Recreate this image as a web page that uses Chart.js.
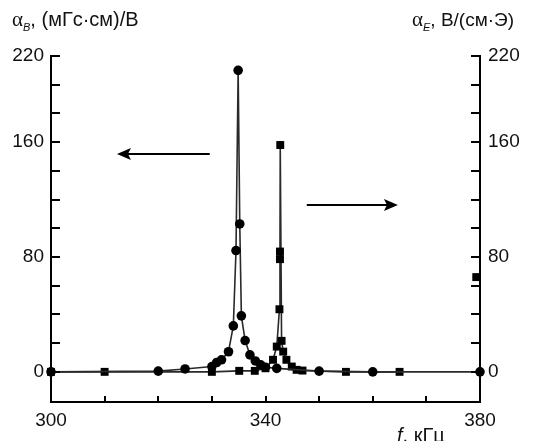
<!DOCTYPE html>
<html><head><meta charset="utf-8">
<script src="https://cdn.jsdelivr.net/npm/chart.js@4"></script>
<style>
html,body{margin:0;padding:0;background:#fff;}
#wrap{position:relative;width:535px;height:441px;overflow:hidden;background:#fff;}
canvas{position:absolute;left:0;top:0;}
.lbl{position:absolute;font-family:"Liberation Sans",Arial,sans-serif;font-size:19px;color:#111;white-space:nowrap;line-height:1;}
.al{font-family:"Liberation Serif",serif;font-size:21px;}
.sub{font-style:italic;font-size:11px;position:relative;top:5px;}
</style></head><body>
<div id="wrap">
<canvas id="c" width="535" height="441"></canvas>
<div class="lbl" style="left:12px;top:9px;font-size:20px"><span class="al">α</span><span class="sub">B</span>, (мГс·см)/В</div>
<div class="lbl" style="left:412px;top:9px"><span class="al">α</span><span class="sub">E</span>, В/(см·Э)</div>
<div class="lbl" style="left:397px;top:425px;font-size:20px"><i>f</i>, кГц</div>
</div>
<script>
// ---- data ----
const freqB  = [300,320,325,330,330.9,331.8,333.1,334.0,334.5,334.9,335.2,335.5,336.2,337.1,338.1,339.1,340.0,342.1,350,360,380];
const alphaB = [0,0.5,2,3.7,6.5,8.4,14,32,84.5,210,103,39,21.8,11.8,7.6,4.9,3.2,2.4,0.5,0,0];
const freqE  = [300,310,330,335.1,338,340,341.4,342.1,342.6,342.7,342.7,342.75,343.0,343.3,343.9,344.9,345.8,346.9,355,365];
const alphaE = [0,0,0,0.7,0.7,2.5,8.4,17.6,43.6,78.5,83.8,158,21.6,14.1,8.4,3.7,1.4,0.9,0,0];
const freqEextra  = [379.3];
const alphaEextra = [66];
const xTickLabels = [300,340,380];
const yTickLabels = [0,80,160,220];
const xMinorTicks = [310,320,330,340,350,360,370];
const yMinorTicks = [0,20,40,60,80,100,120,140,160,180,200,220];
// arrows in data units (left axis): [fromX, toX, y]
const arrowsData = [[329.6,312.3,151.8],[347.7,364.7,116.3]];

const pts = (xs,ys)=>xs.map((x,i)=>({x:x,y:ys[i]}));
const FONT = {family:'"Liberation Sans", Arial, sans-serif', size:19};

const decor = {
  id:'decor',
  afterDatasetsDraw(chart){
    const ctx = chart.ctx, xs = chart.scales.x, yb = chart.scales.yB, ye = chart.scales.yE;
    const a = chart.chartArea;
    ctx.save();
    ctx.strokeStyle = '#000'; ctx.lineWidth = 2;
    ctx.beginPath();
    yMinorTicks.forEach(v=>{
      const y = Math.round(yb.getPixelForValue(v));
      ctx.moveTo(a.left, y); ctx.lineTo(a.left+9, y);
      const y2 = Math.round(ye.getPixelForValue(v));
      ctx.moveTo(a.right, y2); ctx.lineTo(a.right-9, y2);
    });
    xMinorTicks.forEach(v=>{
      const x = Math.round(xs.getPixelForValue(v));
      ctx.moveTo(x, a.bottom); ctx.lineTo(x, a.bottom-6);
    });
    ctx.stroke();
    arrowsData.forEach(([fx,tx,yv])=>{
      const x1 = xs.getPixelForValue(fx), x2 = xs.getPixelForValue(tx), y = yb.getPixelForValue(yv);
      const dir = Math.sign(x2-x1);
      ctx.beginPath(); ctx.lineWidth = 2;
      ctx.moveTo(x1,y); ctx.lineTo(x2-dir*8,y); ctx.stroke();
      ctx.beginPath();
      ctx.moveTo(x2,y); ctx.lineTo(x2-dir*14,y-6); ctx.lineTo(x2-dir*11,y); ctx.lineTo(x2-dir*14,y+6); ctx.closePath();
      ctx.fillStyle='#000'; ctx.fill();
    });
    ctx.restore();
  }
};

new Chart(document.getElementById('c'), {
  type:'scatter',
  data:{datasets:[
    {data:pts(freqB,alphaB), yAxisID:'yB', showLine:true, borderColor:'#2a2a2a', borderWidth:1.6,
     pointStyle:'circle', pointRadius:4.8, pointBackgroundColor:'#000', pointBorderWidth:0, clip:false},
    {data:pts(freqE,alphaE), yAxisID:'yE', showLine:true, borderColor:'#2a2a2a', borderWidth:1.6,
     pointStyle:'rect', pointRadius:5.6, pointBackgroundColor:'#000', pointBorderWidth:0, clip:false},
    {data:pts(freqEextra,alphaEextra), yAxisID:'yE', showLine:false,
     pointStyle:'rect', pointRadius:5.6, pointBackgroundColor:'#000', pointBorderWidth:0, clip:false}
  ]},
  options:{
    responsive:false, animation:false, devicePixelRatio:1,
    layout:{padding:{top:56,left:0,right:0,bottom:0}},
    plugins:{legend:{display:false}, tooltip:{enabled:false}},
    scales:{
      x:{type:'linear', position:'bottom', min:300, max:380,
         afterBuildTicks:s=>{s.ticks = xTickLabels.map(v=>({value:v}));},
         afterFit:s=>{s.height=39;},
         grid:{display:false, drawTicks:false},
         border:{display:true,color:'#000',width:2},
         ticks:{font:FONT, color:'#111', padding:7, maxRotation:0, autoSkip:false}},
      yB:{type:'linear', position:'left', min:-21, max:220,
         afterBuildTicks:s=>{s.ticks = yTickLabels.map(v=>({value:v}));},
         afterFit:s=>{s.width=51;},
         grid:{display:false, drawTicks:false},
         border:{display:true,color:'#000',width:2},
         ticks:{font:FONT, color:'#111', padding:7}},
      yE:{type:'linear', position:'right', min:-21, max:220,
         afterBuildTicks:s=>{s.ticks = yTickLabels.map(v=>({value:v}));},
         afterFit:s=>{s.width=55;},
         grid:{display:false, drawTicks:false},
         border:{display:true,color:'#000',width:2},
         ticks:{font:FONT, color:'#111', padding:8}}
    }
  },
  plugins:[decor]
});
</script>
</body></html>
